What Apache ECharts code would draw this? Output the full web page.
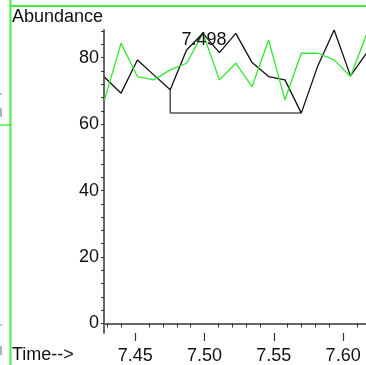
<!DOCTYPE html>
<html>
<head>
<meta charset="utf-8">
<script src="https://cdn.jsdelivr.net/npm/echarts@6/dist/echarts.min.js"></script>
<style>
html,body{margin:0;padding:0;background:#fff;}
#chart{width:366px;height:365px;}
</style>
</head>
<body>
<div id="chart"></div>
<script>
// Retention times (min) of the scan points
var times = [7.4278, 7.4397, 7.4515, 7.4633, 7.4752, 7.4870, 7.4988, 7.5107, 7.5225, 7.5343, 7.5462, 7.5580, 7.5698, 7.5817, 7.5935, 7.6053, 7.6172];
// Black trace abundance
var blackTrace = [74.1, 69.3, 79.3, 74.8, 70.3, 82.3, 87.3, 81.5, 87.3, 78.5, 74.3, 73.3, 63.3, 77.5, 88.3, 74.5, 81.5];
// Green trace abundance
var greenTrace = [67.3, 84.3, 74.3, 73.3, 76.3, 78.3, 87.3, 73.3, 78.3, 71.3, 85.3, 67.3, 81.3, 81.3, 79.3, 74.3, 87.3];
// Integration baseline (time, abundance)
var baseTimes = [7.4752, 7.4752, 7.5698];
var baseValues = [70.3, 63.3, 63.3];
// Peak label
var peakIndex = 6;
var peakLabel = "7.498";
// Axis ticks
var yLabels = [0, 20, 40, 60, 80];
var yTicks = [0, 4, 8, 12, 16, 20, 24, 28, 32, 36, 40, 44, 48, 52, 56, 60, 64, 68, 72, 76, 80, 84, 88];
var xLabels = [7.45, 7.50, 7.55, 7.60];
var xMinorTicks = [7.43, 7.44, 7.46, 7.47, 7.48, 7.49, 7.51, 7.52, 7.53, 7.54, 7.56, 7.57, 7.58, 7.59, 7.61];
var xRange = [7.4274, 7.6165];
var yRange = [-2.85, 88.3];

function pairs(xs, ys){ return xs.map(function(x,i){ return [x, ys[i]]; }); }

var chart = echarts.init(document.getElementById('chart'));
var font = '"Liberation Sans", Arial, sans-serif';
var axisGrey = '#666';
chart.setOption({
  animation: false,
  backgroundColor: '#fff',
  grid: {left: 104, right: 0, top: 30, bottom: 31},
  xAxis: [{
    type: 'value', min: xRange[0], max: xRange[1],
    axisLine: {show: true, lineStyle: {color: axisGrey, width: 2}},
    axisTick: {show: true, customValues: xMinorTicks, length: 4, lineStyle: {color: '#333', width: 1}},
    axisLabel: {show: false},
    splitLine: {show: false}
  }, {
    type: 'value', min: xRange[0], max: xRange[1], position: 'bottom', offset: 0,
    axisLine: {show: false},
    axisTick: {show: true, customValues: xLabels, length: 8, lineStyle: {color: '#333', width: 1.2}},
    axisLabel: {show: true, customValues: xLabels, margin: 14, color: '#111', fontSize: 18, fontFamily: font,
      formatter: function(v){ return v.toFixed(2); }},
    splitLine: {show: false}
  }],
  yAxis: {
    type: 'value', min: yRange[0], max: yRange[1],
    axisLine: {show: true, lineStyle: {color: axisGrey, width: 2}},
    axisTick: {show: true, customValues: yTicks, length: 3, lineStyle: {color: '#333', width: 1}},
    axisLabel: {show: true, customValues: yLabels, margin: 5, color: '#111', fontSize: 18, fontFamily: font},
    splitLine: {show: false}
  },
  graphic: [
    {type: 'line', shape: {x1: 10.5, y1: 0, x2: 10.5, y2: 365}, style: {stroke: '#44f044', lineWidth: 2}},
    {type: 'line', shape: {x1: 10, y1: 6, x2: 366, y2: 6}, style: {stroke: '#44f044', lineWidth: 2}},
    {type: 'line', shape: {x1: 0, y1: 125, x2: 10, y2: 125}, style: {stroke: '#44f044', lineWidth: 1.5}},
    {type: 'line', shape: {x1: 0, y1: 94, x2: 2, y2: 94}, style: {stroke: '#888', lineWidth: 1}},
    {type: 'line', shape: {x1: 1, y1: 108, x2: 1, y2: 117}, style: {stroke: '#999', lineWidth: 1.5}},
    {type: 'line', shape: {x1: 0, y1: 325, x2: 2, y2: 325}, style: {stroke: '#888', lineWidth: 1}},
    {type: 'line', shape: {x1: 1, y1: 346, x2: 1, y2: 355}, style: {stroke: '#999', lineWidth: 1.5}},
    {type: 'text', left: 12, top: 8, style: {text: 'Abundance', fontSize: 18, fontFamily: font, fill: '#111'}},
    {type: 'text', left: 12, top: 346, style: {text: 'Time-->', fontSize: 18, fontFamily: font, fill: '#111'}}
  ],
  series: [{
    type: 'line', data: pairs(baseTimes, baseValues), symbol: 'none', silent: true,
    lineStyle: {color: '#555', width: 1.5}, z: 2
  }, {
    type: 'line', data: pairs(times, blackTrace), symbol: 'none',
    lineStyle: {color: '#111', width: 1.3}, z: 3,
    markPoint: {
      symbol: 'circle', symbolSize: 0,
      data: [{coord: [times[peakIndex], blackTrace[peakIndex]]}],
      label: {show: true, position: 'inside', offset: [1, 7], formatter: peakLabel,
        color: '#111', fontSize: 18, fontFamily: font}
    }
  }, {
    type: 'line', data: pairs(times, greenTrace), symbol: 'none',
    lineStyle: {color: '#33e633', width: 1.3}, z: 4
  }]
});
</script>
</body>
</html>
